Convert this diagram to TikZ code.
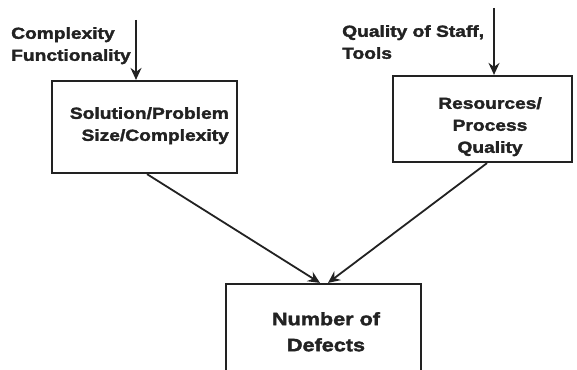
\documentclass[tikz,border=0pt]{standalone}
\usepackage{fontspec}
\newfontfamily\blk{Liberation Sans Bold}[FakeStretch=1.2,FakeBold=2]
\usetikzlibrary{arrows.meta,calc}
\definecolor{ink}{HTML}{222222}
\begin{document}
\begin{tikzpicture}[x=1pt,y=-1pt,
  box/.style={draw=ink,line width=2.2pt,inner sep=0pt},
  txt/.style={inner sep=0pt,text=ink,font=\blk\fontsize{16}{22}\selectfont},
  arr/.style={draw=ink,line width=1.8pt,-{Stealth[length=12pt,width=11pt,inset=4pt]}}]
\useasboundingbox (0,0) rectangle (577,369);
\clip (0,0) rectangle (577,369);
\fill[white] (0,0) rectangle (577,369);
% boxes
\node[box,minimum width=185pt,minimum height=92pt] (b1) at (144.5,127) {};
\node[box,minimum width=179pt,minimum height=86pt] (b2) at (482.5,119) {};
\node[box,minimum width=195pt,minimum height=101pt] (b3) at (323.5,334.5) {};
% texts
\node[txt,align=left,anchor=north west] (l1) at (11,27) {Complexity\\Functionality};
\node[txt,align=left,anchor=north west] (l2) at (342,25) {Quality of Staff,\\Tools};
\node[txt,align=right,anchor=north east] (t1) at (229,107) {Solution/Problem\\Size/Complexity};
\node[txt,align=center,anchor=north] (t2) at (490,97) {Resources/\\Process\\Quality};
\node[txt,align=center,anchor=north,font=\blk\fontsize{18}{26}\selectfont] (t3) at (326,312) {Number of\\Defects};
% connectors
\coordinate (s1) at (136,20);
\coordinate (s2) at (494,8);
\draw[arr] (s1) -- (s1 |- b1.north);
\draw[arr] (s2) -- (s2 |- b2.north);
\draw[arr] ($(b1.south)+(2.5,0)$) -- ($(b3.north)+(-3.5,0)$);
\draw[arr] ($(b2.south)+(4.5,0)$) -- ($(b3.north)+(4.5,0)$);
\end{tikzpicture}
\end{document}
